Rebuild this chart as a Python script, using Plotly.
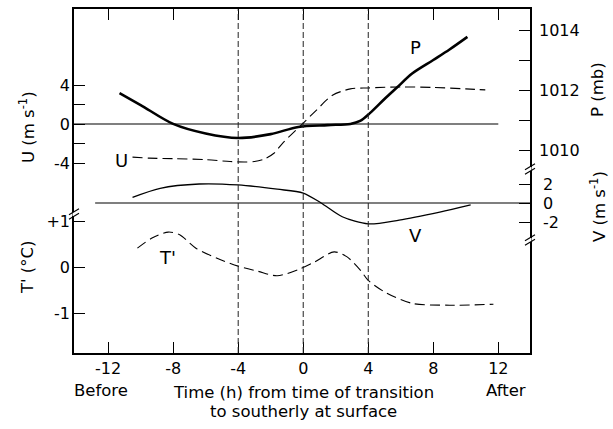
import plotly.graph_objects as go

# ---------------- data ----------------
time_P = [-11.3, -10, -8, -6, -4, -2, -0.3, 1.5, 2.9, 3.5, 4.1, 5, 5.8, 6.7, 8, 9, 10.1]
P_mb = [1011.9, 1011.5, 1010.87, 1010.55, 1010.4, 1010.53, 1010.77, 1010.83, 1010.87,
        1010.97, 1011.23, 1011.7, 1012.1, 1012.55, 1013.0, 1013.35, 1013.77]

time_U = [-10.5, -9.5, -8, -6, -4.5, -3.6, -3.0, -2.4, -1.8, -1.26, -0.3, 0.8, 1.8, 2.9, 4, 6, 8, 10, 11.2]
U_ms = [-3.4, -3.5, -3.55, -3.65, -3.85, -3.9, -3.85, -3.6, -3.0, -1.95, -0.4, 1.4, 2.95,
        3.6, 3.7, 3.8, 3.75, 3.6, 3.5]

time_V = [-10.5, -8.8, -6.4, -4, -1.6, 0, 1.1, 2.4, 4, 5.9, 8.4, 10.3]
V_ms = [0.6, 1.55, 2.0, 1.9, 1.45, 1.05, 0.0, -1.45, -2.2, -1.8, -0.95, -0.2]

time_T = [-10.2, -9.3, -8.3, -7.6, -6.6, -5.3, -4, -2.8, -1.6, -0.2, 0.7, 1.9, 2.7,
          3.5, 4, 5.1, 6.7, 9, 11.7]
T_prime = [0.42, 0.64, 0.77, 0.71, 0.42, 0.2, 0.03, -0.08, -0.18, -0.03, 0.12, 0.34,
           0.23, -0.05, -0.28, -0.55, -0.78, -0.82, -0.8]

u_zero_span = [-14.1, 12]
v_zero_span = [-12.8, 13.95]
ref_times = [-4, 0, 4]

x_ticks = [-12, -8, -4, 0, 4, 8, 12]
x_ticktext = ["-12", "-8", "-4", "0", "4", "8", "12"]
u_ticks = [-4, -2, 0, 2, 4]
u_ticktext = ["-4", " ", "0", " ", "4"]
t_ticks = [-1, 0, 1]
t_ticktext = ["-1", "0", "+1"]
p_ticks = [1010, 1011, 1012, 1013, 1014]
p_ticktext = ["1010", " ", "1012", " ", "1014"]
v_ticks = [-2, 0, 2]
v_ticktext = ["-2", "0", "2"]

# ---------------- geometry helpers (pixels -> paper) ----------------
W, H = 613, 429
PL, PR, PT, PB = 74, 530, 9, 353


def px(x):
    return (x - PL) / (PR - PL)


def py(y):
    return (PB - y) / (PB - PT)


brk_left = 214
brk_r1 = 169
brk_r2 = 240
dL = py(brk_left)
dR1 = py(brk_r1)
dR2 = py(brk_r2)

FONT = "DejaVu Sans"
BLACK = "black"

fig = go.Figure()

# zero lines
fig.add_trace(go.Scatter(x=u_zero_span, y=[0, 0], mode="lines", yaxis="y",
                         line=dict(color=BLACK, width=1.2), hoverinfo="skip"))
fig.add_trace(go.Scatter(x=v_zero_span, y=[0, 0], mode="lines", yaxis="y4",
                         line=dict(color=BLACK, width=1.2), hoverinfo="skip"))

# U (dashed)
fig.add_trace(go.Scatter(x=time_U, y=U_ms, mode="lines", yaxis="y", name="U",
                         line=dict(color=BLACK, width=1.1, dash="10px,5px", shape="spline", smoothing=0.8)))
# P (thick)
fig.add_trace(go.Scatter(x=time_P, y=P_mb, mode="lines", yaxis="y3", name="P",
                         line=dict(color=BLACK, width=2.6, shape="spline", smoothing=0.9)))
# V (solid)
fig.add_trace(go.Scatter(x=time_V, y=V_ms, mode="lines", yaxis="y4", name="V",
                         line=dict(color=BLACK, width=1.3, shape="spline", smoothing=0.8)))
# T' (dashed)
fig.add_trace(go.Scatter(x=time_T, y=T_prime, mode="lines", yaxis="y2", name="T'",
                         line=dict(color=BLACK, width=1.1, dash="10px,5px", shape="spline", smoothing=0.8)))
# frame axis holder
fig.add_trace(go.Scatter(x=[None], y=[None], yaxis="y5", mode="lines", hoverinfo="skip"))

# vertical reference lines
for t in ref_times:
    fig.add_shape(type="line", xref="x", yref="paper", x0=t, x1=t, y0=0, y1=1,
                  line=dict(color="#222", width=1, dash="6px,3px"))


# axis break marks
def add_break(xp, yp):
    fig.add_shape(type="line", xref="paper", yref="paper",
                  x0=px(xp), x1=px(xp), y0=py(yp + 2), y1=py(yp - 2),
                  line=dict(color="white", width=3))
    for off in (-2.2, 2.2):
        fig.add_shape(type="line", xref="paper", yref="paper",
                      x0=px(xp - 5), x1=px(xp + 5), y0=py(yp + off + 3), y1=py(yp + off - 3),
                      line=dict(color=BLACK, width=1.1))


add_break(PL, brk_left)
add_break(PR, brk_r1)
add_break(PR, brk_r2)

common_y = dict(showgrid=False, zeroline=False, showline=False, ticks="inside", ticklen=11,
                tickwidth=1, tickcolor=BLACK, tickfont=dict(family=FONT, size=16, color=BLACK),
                anchor="x", automargin=False, fixedrange=True)

fig.update_layout(
    width=W, height=H,
    template="none",
    paper_bgcolor="white", plot_bgcolor="rgba(0,0,0,0)",
    margin=dict(l=PL, r=W - PR, t=PT, b=H - PB, pad=0),
    showlegend=False,
    font=dict(family=FONT, size=16, color=BLACK),
    xaxis=dict(domain=[0, 1], range=[-14.1, 13.95], anchor="y5", tickvals=x_ticks,
               ticktext=x_ticktext,
               ticks="inside", ticklen=11, tickwidth=1, tickcolor=BLACK,
               showline=True, linewidth=1.5, linecolor=BLACK, mirror="ticks",
               showgrid=False, zeroline=False, automargin=False,
               tickfont=dict(family=FONT, size=16, color=BLACK)),
    yaxis=dict(domain=[dL, 1], range=[-9.23, 11.795], side="left", ticklabelstandoff=3,
               tickvals=u_ticks, ticktext=u_ticktext, **common_y),
    yaxis2=dict(domain=[0, dL], range=[-1.859, 1.163], side="left", ticklabelstandoff=3,
                tickvals=t_ticks, ticktext=t_ticktext, **common_y),
    yaxis3=dict(domain=[dR1, 1], range=[1009.367, 1014.7], side="right", ticklabelstandoff=8,
                tickvals=p_ticks, ticktext=p_ticktext, **common_y),
    yaxis4=dict(domain=[dR2, dR1], range=[-3.895, 3.579], side="right", ticklabelstandoff=12,
                tickvals=v_ticks, ticktext=v_ticktext, **common_y),
    yaxis5=dict(domain=[0, 1], range=[0, 1], anchor="x", showline=True, mirror=True,
                linewidth=1.5, linecolor=BLACK, ticks="", showticklabels=False,
                showgrid=False, zeroline=False, automargin=False),
)

ann = []
lab = dict(family=FONT, size=18, color=BLACK)
base = dict(xref="paper", yref="paper", showarrow=False, xanchor="center", yanchor="middle")
ann.append(dict(text="P", x=px(415), y=py(48), font=lab, **base))
ann.append(dict(text="U", x=px(121), y=py(160), font=lab, **base))
ann.append(dict(text="V", x=px(415), y=py(235), font=lab, **base))
ann.append(dict(text="T'", x=px(167), y=py(257), font=lab, **base))

tf = dict(family=FONT, size=16.5, color=BLACK)
ann.append(dict(text="U (m s<sup>-1</sup>)", x=px(27), y=py(127), textangle=-90, font=tf, **base))
ann.append(dict(text="T' (°C)", x=px(27), y=py(267), textangle=-90, font=tf, **base))
ann.append(dict(text="P (mb)", x=px(598), y=py(90), textangle=-90, font=tf, **base))
ann.append(dict(text="V (m s<sup>-1</sup>)", x=px(598), y=py(207), textangle=-90, font=tf, **base))
ann.append(dict(text="Time (h) from time of transition", x=px(303), y=py(392), font=tf, **base))
ann.append(dict(text="to southerly at surface", x=px(303), y=py(411), font=tf, **base))
ann.append(dict(text="Before", x=px(101), y=py(390), font=tf, **base))
ann.append(dict(text="After", x=px(506), y=py(390), font=tf, **base))
fig.update_layout(annotations=ann)

fig.write_html("out.html")
